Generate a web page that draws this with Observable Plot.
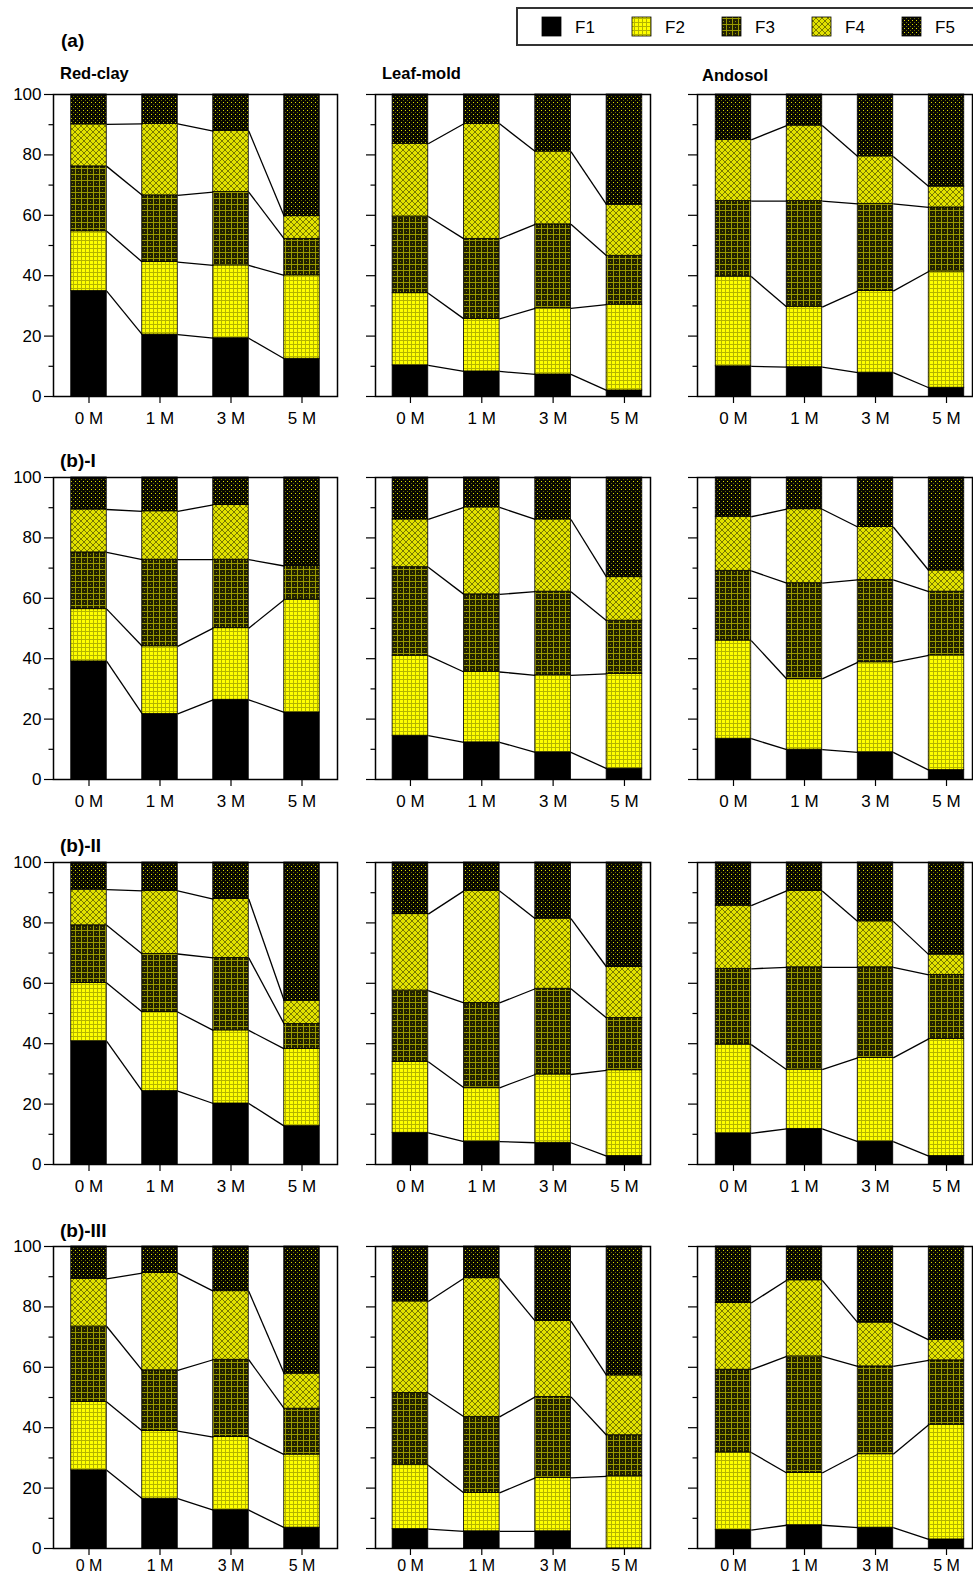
<!DOCTYPE html>
<html><head><meta charset="utf-8">
<script src="https://cdn.jsdelivr.net/npm/d3@7"></script>
<script src="https://cdn.jsdelivr.net/npm/@observablehq/plot@0.6"></script>
<style>
html,body{margin:0;padding:0;overflow:hidden;background:#fff;}
#root{position:relative;width:973px;height:1578px;overflow:hidden;background:#fff;font-family:"Liberation Sans",Arial,sans-serif;}
.panel{position:absolute;}
#overlay{position:absolute;left:0;top:0;pointer-events:none;}
</style></head><body>
<svg width="0" height="0" style="position:absolute">
<defs>
  <pattern id="pF2" patternUnits="userSpaceOnUse" width="4" height="4">
    <rect width="4" height="4" fill="#ffff00"/>
    <rect x="2" y="0" width="1" height="4" fill="#b4b400"/>
    <rect x="0" y="2" width="4" height="1" fill="#b4b400"/>
  </pattern>
  <pattern id="pF3" patternUnits="userSpaceOnUse" width="6" height="6">
    <rect width="6" height="6" fill="#222200"/>
    <rect x="0" y="0" width="1" height="6" fill="#9a9a00"/>
    <rect x="0" y="0" width="6" height="1" fill="#9a9a00"/>
    <rect x="3" y="3" width="1" height="1" fill="#8a8a00"/>
  </pattern>
  <pattern id="pF4" patternUnits="userSpaceOnUse" width="6" height="6">
    <rect width="6" height="6" fill="#e2e200"/>
    <path d="M0,0L6,6M6,0L0,6" stroke="#6e6e00" stroke-width="0.9"/>
  </pattern>
  <pattern id="pF5" patternUnits="userSpaceOnUse" width="4" height="4">
    <rect width="4" height="4" fill="#080800"/>
    <rect x="0" y="0" width="1" height="1" fill="#e0e000"/>
    <rect x="2" y="2" width="1" height="1" fill="#6a6a00"/>
  </pattern>
</defs>
</svg>
<div id="root"></div>
<script>
// ---------------- data ----------------
const fractions = ["F1", "F2", "F3", "F4", "F5"];
const times = ["0 M", "1 M", "3 M", "5 M"];
const soils = ["Red-clay", "Leaf-mold", "Andosol"];
const rowLabels = ["(a)", "(b)-I", "(b)-II", "(b)-III"];

// cumulative percentage at the top of F1, F1+F2, F1..F3, F1..F4 (F5 fills to 100), per time
const a_RedClay  = [[34.9, 54.7, 76.2, 90.1], [20.5, 44.5, 66.6, 90.3], [19.3, 43.4, 67.7, 87.9], [12.5, 40.1, 52.2, 59.7]];
const a_LeafMold = [[10.3, 34.2, 59.6, 83.7], [8.3, 25.7, 52.2, 90.3], [7.3, 29.2, 57.0, 81.1], [2.0, 30.4, 46.6, 63.5]];
const a_Andosol  = [[10.0, 39.7, 64.7, 85.0], [9.7, 29.6, 64.7, 89.7], [7.9, 34.9, 63.8, 79.5], [2.9, 41.4, 62.6, 69.5]];

const bI_RedClay  = [[39.1, 56.4, 75.2, 89.4], [21.7, 44.1, 72.8, 88.8], [26.4, 50.1, 72.8, 90.9], [22.2, 59.5, 70.7, 70.7]];
const bI_LeafMold = [[14.5, 41.0, 70.3, 86.1], [12.3, 35.6, 61.3, 90.1], [9.0, 34.5, 62.2, 86.1], [3.6, 35.0, 52.6, 67.0]];
const bI_Andosol  = [[13.5, 46.0, 69.1, 87.0], [9.9, 33.3, 65.0, 89.5], [9.0, 38.8, 66.1, 83.6], [3.1, 41.1, 62.2, 69.2]];

const bII_RedClay  = [[40.8, 60.1, 79.2, 91.0], [24.3, 50.5, 69.7, 90.6], [20.2, 44.4, 68.4, 87.9], [12.7, 38.3, 46.5, 54.2]];
const bII_LeafMold = [[10.5, 34.0, 57.6, 82.9], [7.6, 25.4, 53.5, 90.6], [7.2, 29.8, 58.2, 81.4], [2.8, 31.2, 48.5, 65.4]];
const bII_Andosol  = [[10.3, 39.7, 64.8, 85.7], [11.8, 31.4, 65.3, 90.6], [7.6, 35.3, 65.3, 80.5], [2.8, 41.6, 62.8, 69.5]];

const bIII_RedClay  = [[25.9, 48.5, 73.5, 89.3], [16.5, 38.9, 59.0, 91.2], [12.7, 36.9, 62.5, 85.2], [6.9, 31.1, 46.3, 57.9]];
const bIII_LeafMold = [[6.4, 27.6, 51.5, 81.8], [5.7, 18.4, 43.6, 89.5], [5.7, 23.4, 50.2, 75.3], [0, 23.9, 37.5, 57.3]];
const bIII_Andosol  = [[6.1, 31.8, 59.2, 81.3], [7.7, 25.0, 63.6, 88.8], [6.9, 31.2, 60.3, 74.8], [3.0, 41.0, 62.3, 69.1]];

const panels = [
  [a_RedClay, a_LeafMold, a_Andosol],
  [bI_RedClay, bI_LeafMold, bI_Andosol],
  [bII_RedClay, bII_LeafMold, bII_Andosol],
  [bIII_RedClay, bIII_LeafMold, bIII_Andosol]
];

const yMajor = [0, 20, 40, 60, 80, 100];
const yMinor = [10, 30, 50, 70, 90];

// ---------------- styling / layout ----------------
const fills = ["#000000", "url(#pF2)", "url(#pF3)", "url(#pF4)", "url(#pF5)"];
const frameTop = [94, 477, 862, 1246];
const frameH = 302;
const cols = [
  {left: 53, right: 337, dom: [-0.5, 3.5]},
  {left: 375, right: 650, dom: [-0.49, 3.365]},
  {left: 697, right: 972, dom: [-0.507, 3.366]}
];
const FONT = '"Liberation Sans", Arial, sans-serif';
const root = document.getElementById("root");

function makePanel(tops, r, c) {
  const col = cols[c];
  const last = r === panels.length - 1;
  const mL = 50, mR = c === 2 ? 1 : 4, mT = 4, mB = last ? 28 : 34;
  const segs = [];
  tops.forEach((t, i) => {
    const cum = [0, ...t, 100];
    fractions.forEach((f, k) => segs.push({i, f, y1: cum[k], y2: cum[k + 1]}));
  });
  const links = [];
  for (let k = 0; k < 4; k++) {
    for (let i = 0; i < 3; i++) {
      const a = tops[i], b = tops[i + 1];
      const va = a[k] - (k ? a[k - 1] : 0), vb = b[k] - (k ? b[k - 1] : 0);
      if (va > 0 && vb > 0) links.push({i, y1: a[k], y2: b[k]});
    }
  }
  const chart = Plot.plot({
    width: (col.right - col.left) + mL + mR,
    height: frameH + mT + mB,
    marginLeft: mL, marginRight: mR, marginTop: mT, marginBottom: mB,
    x: {domain: col.dom},
    y: {domain: [0, 100]},
    style: {fontFamily: FONT, fontSize: "17px", color: "#000", background: "transparent", overflow: "visible"},
    marks: [
      ...fractions.map((f, k) => Plot.rect(segs.filter(d => d.f === f && d.y2 > d.y1), {
        x1: d => d.i - 0.25, x2: d => d.i + 0.25, y1: "y1", y2: "y2",
        fill: fills[k], stroke: "#000", strokeWidth: 0.8
      })),
      Plot.link(links, {x1: d => d.i + 0.25, x2: d => d.i + 0.75, y1: "y1", y2: "y2", stroke: "#000", strokeWidth: 1.3}),
      Plot.axisY({ticks: yMajor, tickSize: 9, tickPadding: 3, tickFormat: c === 0 ? d => String(d) : () => "", fontSize: 17, label: null, strokeWidth: 1.2}),
      Plot.axisY({ticks: yMinor, tickSize: 4.5, tickFormat: () => "", label: null, strokeWidth: 1.2}),
      Plot.axisX({ticks: [0, 1, 2, 3], tickSize: 7, tickPadding: last ? 4 : 8, tickFormat: i => times[i], fontSize: last ? 16 : 17, label: null, strokeWidth: 1.2}),
      Plot.frame({stroke: "#000", strokeWidth: 1.5})
    ]
  });
  chart.classList.add("panel");
  chart.style.left = (col.left - mL) + "px";
  chart.style.top = (frameTop[r] - mT) + "px";
  root.appendChild(chart);
}

panels.forEach((row, r) => row.forEach((tops, c) => makePanel(tops, r, c)));

// ---------------- titles & legend overlay ----------------
const ov = d3.select(root).append("svg").attr("id", "overlay").attr("width", 973).attr("height", 1578)
  .style("font-family", FONT);
const rowLabelPos = [{x: 61, y: 47}, {x: 60, y: 467}, {x: 60, y: 852}, {x: 60, y: 1237}];
rowLabels.forEach((t, r) => ov.append("text").attr("x", rowLabelPos[r].x).attr("y", rowLabelPos[r].y)
  .attr("font-size", 19).attr("font-weight", "bold").text(t));
const soilPos = [{x: 60, y: 79}, {x: 382, y: 79}, {x: 702, y: 81}];
soils.forEach((s, c) => ov.append("text").attr("x", soilPos[c].x).attr("y", soilPos[c].y)
  .attr("font-size", 16.5).attr("font-weight", "bold").text(s));

ov.append("rect").attr("x", 517).attr("y", 8).attr("width", 470).attr("height", 37)
  .attr("fill", "#fff").attr("stroke", "#333").attr("stroke-width", 2);
fractions.forEach((f, k) => {
  ov.append("rect").attr("x", 542 + 90 * k).attr("y", 17).attr("width", 19).attr("height", 19)
    .attr("fill", fills[k]).attr("stroke", "#000").attr("stroke-width", 0.8);
  ov.append("text").attr("x", 575 + 90 * k).attr("y", 33).attr("font-size", 17).text(f);
});
</script>
</body></html>
